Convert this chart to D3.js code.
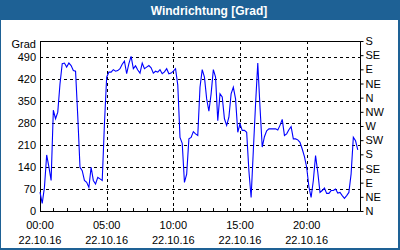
<!DOCTYPE html>
<html>
<head>
<meta charset="utf-8">
<script src="https://cdn.jsdelivr.net/npm/d3@7"></script>
<style>
  body { margin: 0; background: #fff; }
  text { font-family: "Liberation Sans", Arial, sans-serif; }
</style>
</head>
<body>
<script>
// Data: wind direction every 10 minutes on 22.10.16
const minutes = d3.range(0, 144).map(i => i * 10);
const direction = [
    60, 24, 75, 178, 140, 97, 320, 293, 314, 404,
    468, 470, 457, 470, 462, 446, 444, 300, 139, 128,
    97, 91, 75, 139, 97, 86, 107, 102, 97, 277,
    425, 441, 441, 449, 444, 446, 452, 466, 476, 436,
    468, 491, 452, 461, 448, 438, 470, 452, 457, 462,
    455, 438, 444, 441, 449, 436, 442, 452, 436, 438,
    444, 452, 400, 234, 215, 91, 117, 229, 234, 252,
    245, 240, 393, 449, 425, 356, 317, 372, 449, 425,
    287, 372, 362, 293, 272, 298, 372, 393, 356, 250,
    277, 256, 256, 250, 128, 43, 192, 339, 470, 330,
    203, 236, 255, 261, 261, 261, 261, 257, 272, 291,
    240, 245, 258, 268, 229, 229, 226, 218, 197, 173,
    139, 77, 43, 97, 176, 123, 59, 65, 73, 56,
    56, 65, 65, 70, 57, 59, 49, 40, 49, 59,
    118, 234, 223, 194
];
const leftTicks = [0, 70, 140, 210, 280, 350, 420, 490];
const compassLabels = ["N", "NE", "E", "SE", "S", "SW", "W", "NW", "N", "NE", "E", "SE", "S"];
const hourTicks = [0, 5, 10, 15, 20];
const dateLabel = "22.10.16";

const W = 400, H = 250;
const blue = "#1e6195";

const svg = d3.select("body").append("svg")
    .attr("width", W)
    .attr("height", H);

// frame + title bar
svg.append("rect").attr("x", 0).attr("y", 0).attr("width", W).attr("height", H).attr("fill", blue);
svg.append("rect").attr("x", 1).attr("y", 20).attr("width", W - 3).attr("height", H - 22).attr("fill", "#fff");
svg.append("text")
    .attr("x", 209).attr("y", 15)
    .attr("text-anchor", "middle")
    .attr("fill", "#fff")
    .attr("font-size", 12)
    .attr("font-weight", "bold")
    .text("Windrichtung [Grad]");

const x = d3.scaleLinear().domain([0, 24 * 60]).range([40, 360]);
const y = d3.scaleLinear().domain([0, 540]).range([211, 41]);

// grid
const grid = svg.append("g").attr("stroke", "#000").attr("stroke-dasharray", "3,3").attr("shape-rendering", "crispEdges");
grid.selectAll("line.h").data(leftTicks.slice(1)).enter().append("line")
    .attr("x1", x.range()[0]).attr("x2", x.range()[1])
    .attr("y1", d => Math.round(y(d)) + 0.5).attr("y2", d => Math.round(y(d)) + 0.5);
grid.selectAll("line.v").data(hourTicks.slice(1)).enter().append("line")
    .attr("y1", y.range()[1]).attr("y2", y.range()[0])
    .attr("x1", d => Math.round(x(d * 60)) + 0.5).attr("x2", d => Math.round(x(d * 60)) + 0.5);

// plot frame
svg.append("rect")
    .attr("x", 40.5).attr("y", 41.5)
    .attr("width", 320).attr("height", 170)
    .attr("fill", "none").attr("stroke", "#000").attr("shape-rendering", "crispEdges");

// hourly minor ticks on the bottom axis (pointing inward)
svg.append("g").selectAll("line").data(d3.range(0, 25)).enter().append("line")
    .attr("x1", d => Math.round(x(d * 60)) + 0.5).attr("x2", d => Math.round(x(d * 60)) + 0.5)
    .attr("y1", 211).attr("y2", 208)
    .attr("stroke", "#000").attr("shape-rendering", "crispEdges");

// left axis labels
const fs = 11;
svg.append("g").selectAll("text").data(leftTicks).enter().append("text")
    .attr("x", 36).attr("y", d => y(d) + 4)
    .attr("text-anchor", "end").attr("font-size", fs)
    .text(d => d);
svg.append("text").attr("x", 36).attr("y", 48)
    .attr("text-anchor", "end").attr("font-size", fs).text("Grad");

// right compass axis
const yRight = d3.axisRight(y)
    .tickValues(d3.range(0, 541, 45))
    .tickSize(3)
    .tickFormat((d, i) => compassLabels[i]);
svg.append("g")
    .attr("transform", "translate(360.5,0)")
    .call(yRight)
    .call(g => g.select(".domain").remove())
    .call(g => g.selectAll("text").attr("font-size", fs).attr("x", 5).attr("font-family", "Liberation Sans, Arial, sans-serif"));

// bottom labels
const xl = svg.append("g").selectAll("g").data(hourTicks).enter().append("g");
xl.append("text")
    .attr("x", d => x(d * 60)).attr("y", 229)
    .attr("text-anchor", "middle").attr("font-size", fs)
    .text(d => String(d).padStart(2, "0") + ":00");
xl.append("text")
    .attr("x", d => x(d * 60)).attr("y", 244)
    .attr("text-anchor", "middle").attr("font-size", fs)
    .text(dateLabel);

// series line
const line = d3.line()
    .x((d, i) => x(minutes[i]))
    .y(d => y(d));
svg.append("path")
    .datum(direction)
    .attr("d", line)
    .attr("fill", "none")
    .attr("stroke", "#0000ff")
    .attr("stroke-width", 1.1);
</script>
</body>
</html>
